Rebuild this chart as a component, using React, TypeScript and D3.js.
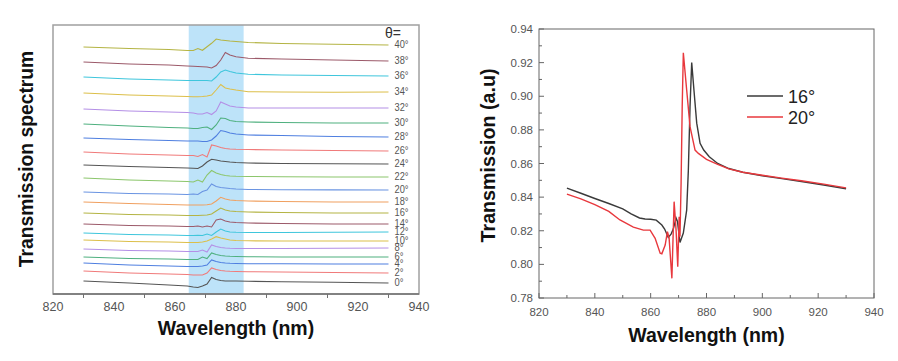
import React, { useEffect, useRef } from 'react';
import * as d3 from 'd3';

// ---- left panel: stacked spectra, one per incidence angle ----
const angles = [0, 2, 4, 6, 8, 10, 12, 14, 16, 18, 20, 22, 24, 26, 28, 30, 32, 34, 36, 38, 40];
// vertical offset of each spectrum (a.u.)
const offsets = [0.13, 0.23, 0.31, 0.37, 0.45, 0.54, 0.61, 0.70, 0.81, 0.92, 1.02, 1.16, 1.29, 1.42, 1.56, 1.70, 1.85, 2.01, 2.17, 2.32, 2.47];
const gridNm = [830, 845, 858, 864, 866, 867.5, 869, 870.5, 872, 873.5, 875, 876.5, 878, 880, 884, 895, 912, 930];
// deviation from each spectrum's start, in 0.01 a.u.
const deviations = [
  [0, -2, -4, -5, -6, -6.5, -5, -3, 3.5, 1.5, 0.5, 0, 0, 0, -0.3, -0.7, -1.3, -2],
  [0, -2, -3, -3.5, -4, -4, -4, -2, 3, 1.5, 0.5, 0, -0.3, -0.5, -0.7, -1, -1.5, -2],
  [0, -2, -3, -3.5, -3.5, -3.5, -3, -2, 3, 1.5, 0.5, 0, -0.3, -0.5, -0.7, -0.8, -1, -1],
  [0, -1.5, -2, -2.5, -2.5, -2.5, 0, -1.5, 4, 2.5, 1.5, 1, 0.7, 0.5, 0.3, 0, 0, 0],
  [0, -1.5, -2, -2.5, -2.5, -2.5, -1, -3, 4, 2.5, 1.5, 1, 0.7, 0.5, 0.5, 0.5, 0.7, 1],
  [0, -1.5, -2, -2.5, -2.5, -2.5, -2, -1, 1, 3.3, 2, 1, 0, -0.5, -0.8, -1, -1, -1],
  [0, -1.5, -2, -2.5, -2.5, -2.3, -2.5, -1, -2.5, 1, 4, 2, 1, 0.7, 0.5, 0.5, 0.7, 1],
  [0, -1.5, -2, -2.5, -2.5, -2, -3, -2, -3, 4, 5, 3, 2, 1.5, 1, 0.5, 0, 0],
  [0, -1.5, -2, -2.5, -2.5, -2.5, -2.3, -2, -1, 2, 5, 3, 2, 1.5, 1, 0.5, 0, 0],
  [0, -1.5, -2.5, -3, -3, -3, -3, -2.8, -2, 1, 4.7, 3, 2, 1.5, 1, 0.5, 0, 0],
  [0, -1.5, -2, -2.5, -2, -2.5, 0.5, 2, 8, 5.5, 4.5, 4, 3.5, 3, 2.5, 2.3, 2.1, 2],
  [0, -2, -3, -3.5, -4, -2, -4, 3, 7.5, 5, 3.5, 2.5, 2, 1.7, 1.5, 1.2, 1, 1],
  [0, -1.5, -2.5, -3, -3.3, -3.5, -1, 3, 5.7, 5, 4, 3.5, 3, 2.5, 2, 1.5, 1.2, 1],
  [0, -2, -3, -3.5, -3.5, -4.5, -2.5, -5, 7, 6, 4.5, 3.5, 3, 2.7, 2.5, 2, 1.5, 1],
  [0, -1.5, -2.5, -3, -3, -3, -3.5, -3.5, -2, 2, 7.5, 6.5, 5, 4, 3, 2.5, 1.5, 1],
  [0, -2, -3.5, -4, -4.5, -4.5, -3.5, -3, -5.5, -1, 6, 5.5, 3.5, 2.5, 2, 1.5, 1, 1],
  [0, -2, -3, -3.5, -4, -5, -5, -3.5, -5.5, -2, 7, 5, 3, 2, 1, 1, 1, 1],
  [0, -2, -3, -3.5, -3.7, -3.7, -3.5, -3, -2, 3, 8.5, 5, 4, 3, 1.3, 1, 0.8, 1],
  [0, -2, -3, -3.5, -3.5, -3.5, -3.5, -3.5, -4, 0, 5, 7, 5.5, 4, 2.7, 2, 1.5, 1],
  [0, -2, -3, -4, -4.3, -4.5, -4.8, -5, -6, -3.5, 2, 9.5, 7, 5.3, 3.7, 3, 2, 1],
  [0, -1.5, -2.5, -3.5, -3.5, -1.5, -3.3, 0.3, 3.7, 8, 7, 6.5, 6, 5.5, 4.5, 3.5, 2.7, 2],
];
const palette = ['#555555', '#f07a7a', '#4f7fe0', '#4fb07f', '#b48fe6', '#dcbf4a', '#3fc6dc', '#9c5a6a', '#b4b444', '#f0a060', '#6a94e2', '#8cc66c'];
const bandNm = [864.5, 882.5];
const leftTicks = [820, 840, 860, 880, 900, 920, 940];
const leftMinor = [830, 850, 870, 890, 910, 930];

// ---- right panel: 16 and 20 degree spectra ----
const wl16 = [830, 835, 840, 845, 850, 853, 856, 858, 860, 862, 864, 865, 866.3, 867.3, 868.1, 869.1, 869.6, 870.5, 871.7, 872.9, 873.5, 874.1, 874.7, 875.5, 876.5, 877.7, 879, 881, 884, 888, 893, 900, 907, 914, 922, 930];
const t16 = [0.8453, 0.8423, 0.8392, 0.8362, 0.8330, 0.8300, 0.8276, 0.8270, 0.8268, 0.8263, 0.8234, 0.8210, 0.8160, 0.8180, 0.8210, 0.8276, 0.8255, 0.8130, 0.8186, 0.8323, 0.8560, 0.8938, 0.9200, 0.9037, 0.8840, 0.8720, 0.8680, 0.8640, 0.8600, 0.8570, 0.8548, 0.8527, 0.8510, 0.8493, 0.8472, 0.8450];
const wl20 = [830, 835, 840, 845, 849, 853.8, 857.4, 859.8, 861.6, 863.4, 864, 865.2, 866, 866.6, 867.6, 868.4, 869.1, 869.7, 870.2, 870.5, 870.9, 871.3, 871.7, 872.9, 874.1, 875.9, 877.1, 880, 884, 888, 893, 900, 907, 914, 922, 930];
const t20 = [0.8418, 0.8390, 0.8355, 0.8315, 0.8264, 0.8222, 0.8204, 0.8204, 0.8155, 0.8066, 0.8063, 0.8115, 0.8195, 0.8157, 0.7917, 0.8373, 0.8204, 0.7986, 0.8283, 0.8165, 0.8484, 0.8940, 0.9259, 0.9037, 0.8819, 0.8680, 0.8660, 0.8625, 0.8595, 0.8568, 0.8548, 0.8530, 0.8513, 0.8497, 0.8477, 0.8455];
const rightXTicks = [820, 840, 860, 880, 900, 920, 940];
const rightXMinor = [830, 850, 870, 890, 910, 930];
const rightYTicks = [0.78, 0.80, 0.82, 0.84, 0.86, 0.88, 0.90, 0.92, 0.94];
const rightYMinor = [0.79, 0.81, 0.83, 0.85, 0.87, 0.89, 0.91, 0.93];
const legendItems = [
  { label: '16°', color: '#3a3a3a' },
  { label: '20°', color: '#e8383d' },
];

const FONT = 'Liberation Sans, Arial, sans-serif';

export default function App() {
  const ref = useRef<SVGSVGElement>(null);

  useEffect(() => {
    if (!ref.current) return;
    const svg = d3.select(ref.current);
    svg.selectAll('*').remove();

    // ---------- left ----------
    const xL = d3.scaleLinear().domain([820, 940]).range([53, 419]);
    const yL = d3.scaleLinear().domain([0, 2.69]).range([294, 25]);
    const left = svg.append('g');

    left.append('rect')
      .attr('x', xL(bandNm[0]))
      .attr('y', yL(2.69))
      .attr('width', xL(bandNm[1]) - xL(bandNm[0]))
      .attr('height', yL(0) - yL(2.69))
      .attr('fill', '#bde3f9');

    left.append('rect')
      .attr('x', xL(820)).attr('y', yL(2.69))
      .attr('width', xL(940) - xL(820)).attr('height', yL(0) - yL(2.69))
      .attr('fill', 'none').attr('stroke', '#a0a0a0').attr('stroke-width', 1.5);
    left.append('line')
      .attr('x1', xL(820)).attr('x2', xL(940)).attr('y1', yL(0)).attr('y2', yL(0))
      .attr('stroke', '#707070').attr('stroke-width', 1.5);

    left.selectAll('.minor').data(leftMinor).join('line')
      .attr('x1', d => xL(d)).attr('x2', d => xL(d))
      .attr('y1', yL(0)).attr('y2', yL(0) + 4)
      .attr('stroke', '#707070').attr('stroke-width', 1);

    left.selectAll('.tl').data(leftTicks).join('text')
      .attr('x', d => xL(d)).attr('y', 310.5)
      .attr('text-anchor', 'middle')
      .attr('font-family', FONT).attr('font-size', 12.5).attr('fill', '#555')
      .text(d => d);

    const lineL = d3.line<[number, number]>().x(d => xL(d[0])).y(d => yL(d[1]));
    angles.forEach((a, i) => {
      const pts: [number, number][] = gridNm.map((w, j) => [w, offsets[i] + deviations[i][j] * 0.01]);
      left.append('path')
        .attr('d', lineL(pts))
        .attr('fill', 'none')
        .attr('stroke', palette[i % palette.length])
        .attr('stroke-width', 1.1);
      const last = pts[pts.length - 1];
      left.append('text')
        .attr('x', xL(last[0]) + 6)
        .attr('y', yL(last[1]) + 3)
        .attr('font-family', FONT).attr('font-size', 11).attr('fill', '#555')
        .attr('textLength', a >= 10 ? 14 : 9).attr('lengthAdjust', 'spacingAndGlyphs')
        .text(`${a}°`);
    });
    left.append('text')
      .attr('x', 385).attr('y', 38)
      .attr('font-family', FONT).attr('font-size', 14).attr('fill', '#333')
      .text('θ=');

    left.append('text')
      .attr('x', xL(880)).attr('y', 335)
      .attr('text-anchor', 'middle')
      .attr('font-family', FONT).attr('font-weight', 'bold').attr('font-size', 19.5).attr('fill', '#111')
      .text('Wavelength (nm)');
    left.append('text')
      .attr('transform', 'translate(33,159) rotate(-90)')
      .attr('text-anchor', 'middle')
      .attr('font-family', FONT).attr('font-weight', 'bold').attr('font-size', 19.3).attr('fill', '#111')
      .text('Transmission spectrum');

    // ---------- right ----------
    const xR = d3.scaleLinear().domain([820, 940]).range([539, 874]);
    const yR = d3.scaleLinear().domain([0.78, 0.94]).range([298, 29]);
    const right = svg.append('g');

    right.append('rect')
      .attr('x', xR(820)).attr('y', yR(0.94))
      .attr('width', xR(940) - xR(820)).attr('height', yR(0.78) - yR(0.94))
      .attr('fill', 'none').attr('stroke', '#666').attr('stroke-width', 1);

    right.selectAll('.xt').data(rightXTicks).join('line')
      .attr('x1', d => xR(d)).attr('x2', d => xR(d))
      .attr('y1', yR(0.78)).attr('y2', yR(0.78) - 5)
      .attr('stroke', '#666');
    right.selectAll('.xm').data(rightXMinor).join('line')
      .attr('x1', d => xR(d)).attr('x2', d => xR(d))
      .attr('y1', yR(0.78)).attr('y2', yR(0.78) - 3)
      .attr('stroke', '#666');
    right.selectAll('.yt').data(rightYTicks).join('line')
      .attr('x1', xR(820)).attr('x2', xR(820) + 5)
      .attr('y1', d => yR(d)).attr('y2', d => yR(d))
      .attr('stroke', '#666');
    right.selectAll('.ym').data(rightYMinor).join('line')
      .attr('x1', xR(820)).attr('x2', xR(820) + 3)
      .attr('y1', d => yR(d)).attr('y2', d => yR(d))
      .attr('stroke', '#666');

    right.selectAll('.xl').data(rightXTicks).join('text')
      .attr('x', d => xR(d)).attr('y', 316)
      .attr('text-anchor', 'middle')
      .attr('font-family', FONT).attr('font-size', 11.5).attr('fill', '#555')
      .text(d => d);
    right.selectAll('.yl').data(rightYTicks).join('text')
      .attr('x', xR(820) - 6).attr('y', d => yR(d) + 4)
      .attr('text-anchor', 'end')
      .attr('font-family', FONT).attr('font-size', 11.5).attr('fill', '#555')
      .text(d => d3.format('.2f')(d));

    const lineR = d3.line<[number, number]>().x(d => xR(d[0])).y(d => yR(d[1]));
    const s16: [number, number][] = wl16.map((w, i) => [w, t16[i]]);
    const s20: [number, number][] = wl20.map((w, i) => [w, t20[i]]);
    right.append('path').attr('d', lineR(s16)).attr('fill', 'none')
      .attr('stroke', legendItems[0].color).attr('stroke-width', 1.4);
    right.append('path').attr('d', lineR(s20)).attr('fill', 'none')
      .attr('stroke', legendItems[1].color).attr('stroke-width', 1.4);

    legendItems.forEach((it, i) => {
      const y = 96 + i * 21;
      right.append('line')
        .attr('x1', 747).attr('x2', 783).attr('y1', y).attr('y2', y)
        .attr('stroke', it.color).attr('stroke-width', 1.5);
      right.append('text')
        .attr('x', 788).attr('y', y + 7)
        .attr('font-family', FONT).attr('font-size', 18).attr('fill', '#222')
        .text(it.label);
    });

    right.append('text')
      .attr('x', 706.5).attr('y', 342)
      .attr('text-anchor', 'middle')
      .attr('font-family', FONT).attr('font-weight', 'bold').attr('font-size', 19.5).attr('fill', '#111')
      .text('Wavelength (nm)');
    right.append('text')
      .attr('transform', 'translate(495,155.5) rotate(-90)')
      .attr('text-anchor', 'middle')
      .attr('font-family', FONT).attr('font-weight', 'bold').attr('font-size', 19.7).attr('fill', '#111')
      .text('Transmission (a.u)');
  }, []);

  return (
    <div style={{ position: 'absolute', left: 0, top: 0 }}>
      <svg ref={ref} width={898} height={361} style={{ display: 'block', background: '#fff' }} />
    </div>
  );
}
